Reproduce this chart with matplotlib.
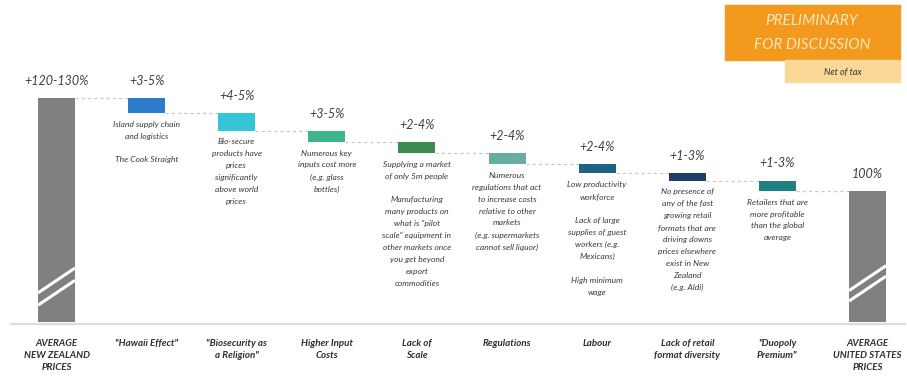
import matplotlib
matplotlib.use("Agg")
import matplotlib.pyplot as plt
from matplotlib.patches import Rectangle

# ---------------- data ----------------
categories = ['AVERAGE\nNEW ZEALAND\nPRICES', '"Hawaii Effect"', '"Biosecurity as\na Religion"',
              'Higher Input\nCosts', 'Lack of\nScale', 'Regulations', 'Labour',
              'Lack of retail\nformat diversity', '"Duopoly\nPremium"', 'AVERAGE\nUNITED STATES\nPRICES']
value_labels = ['+120-130%', '+3-5%', '+4-5%', '+3-5%', '+2-4%', '+2-4%', '+2-4%', '+1-3%', '+1-3%', '100%']
nz_total = 171.0
steps = [11.5, 13.5, 8.5, 8.5, 8.5, 7.0, 5.5, 8.0]
us_total = 100.0
descriptions = [
    "Island supply chain\nand logistics\n\nThe Cook Straight",
    "Bio-secure\nproducts have\nprices\nsignificantly\nabove world\nprices",
    "Numerous key\ninputs cost more\n(e.g. glass\nbottles)",
    "Supplying a market\nof only 5m people\n\nManufacturing\nmany products on\nwhat is \"pilot\nscale\" equipment in\nother markets once\nyou get beyond\nexport\ncommodities",
    "Numerous\nregulations that act\nto increase costs\nrelative to other\nmarkets\n(e.g. supermarkets\ncannot sell liquor)",
    "Low productivity\nworkforce\n\nLack of large\nsupplies of guest\nworkers (e.g.\nMexicans)\n\nHigh minimum\nwage",
    "No presence of\nany of the fast\ngrowing retail\nformats that are\ndriving downs\nprices elsewhere\nexist in New\nZealand\n(e.g. Aldi)",
    "Retailers that are\nmore profitable\nthan the global\naverage",
]
step_colors = ['#2C7BC9', '#35C5D6', '#3DB68C', '#3B8D4E', '#68AE9F', '#1E6386', '#1F3E6C', '#1F8181']
total_color = '#808080'

FONT = ['Lato', 'DejaVu Sans']
plt.rcParams['font.family'] = FONT

fig = plt.figure(figsize=(9.07, 3.76), dpi=100)
ax = fig.add_axes([0, 0, 1, 1])
ax.set_xlim(-0.627, 9.438)
ax.set_ylim(-41.2, 245.8)
ax.axis('off')

width = 0.41
n = len(categories)
xs = list(range(n))

# totals
ax.bar(xs[0], nz_total, width=width, color=total_color, zorder=2)
ax.bar(xs[-1], us_total, width=width, color=total_color, zorder=2)

# floating steps
level = nz_total
tops, bottoms = [nz_total], [0]
for i, (s, c) in enumerate(zip(steps, step_colors)):
    ax.bar(xs[i + 1], s, bottom=level - s, width=width, color=c, zorder=2)
    tops.append(level)
    bottoms.append(level - s)
    level -= s
tops.append(us_total)
bottoms.append(0)

# connectors
conn_levels = [nz_total]
lv = nz_total
for s in steps:
    lv -= s
    conn_levels.append(lv)
for i, lv in enumerate(conn_levels):
    ax.plot([xs[i] + width / 2, xs[i + 1] - width / 2], [lv, lv], color='#C8C8C8',
            lw=0.9, ls=(0, (2.5, 2.5)), zorder=1)

# break marks on total bars
def break_marks(x, h, f1, f2):
    for f in (f1, f2):
        y0 = h * f
        ax.plot([x - width / 2, x + width / 2], [y0, y0 + 19], color='white', lw=2.2,
                solid_capstyle='butt', zorder=3)
break_marks(xs[0], nz_total, 0.13, 0.075)
break_marks(xs[-1], us_total, 0.24, 0.16)

# baseline
ax.plot([-0.5, 9.42], [-1.5, -1.5], color='#DCDCDC', lw=1.6, zorder=1)

# value labels
for x, t, lab in zip(xs, tops, value_labels):
    ax.annotate(lab, (x, t), xytext=(0, 8), textcoords='offset points', ha='center',
                va='bottom', fontsize=9, style='italic', color='#404040')

# descriptions
for i, d in enumerate(descriptions):
    ax.annotate(d, (xs[i + 1], bottoms[i + 1]), xytext=(0, -5.5), textcoords='offset points',
                ha='center', va='top', fontsize=6.1, style='italic', color='#3A3A3A',
                linespacing=1.82)

# category labels
for x, c in zip(xs, categories):
    ax.text(x, -13, c, ha='center', va='top', fontsize=7, style='italic',
            fontweight='bold', color='#2E2E2E', linespacing=1.45)

# top-right boxes
fig.patches.append(Rectangle((725 / 907, 1 - 60 / 376), 175 / 907, 55 / 376,
                             transform=fig.transFigure, color='#F39A1E', zorder=0))
fig.patches.append(Rectangle((785 / 907, 1 - 82 / 376), 115 / 907, 22 / 376,
                             transform=fig.transFigure, color='#FBD895', zorder=0))
fig.text(812 / 907, 1 - 21 / 376, 'PRELIMINARY', ha='center', va='center', fontsize=11,
         style='italic', color='#FDE6BE')
fig.text(812 / 907, 1 - 45 / 376, 'FOR DISCUSSION', ha='center', va='center', fontsize=11,
         style='italic', color='#FDE6BE')
fig.text(843 / 907, 1 - 72 / 376, 'Net of tax', ha='center', va='center', fontsize=6.5,
         style='italic', color='#333333')

fig.savefig('out.png', dpi=100)
